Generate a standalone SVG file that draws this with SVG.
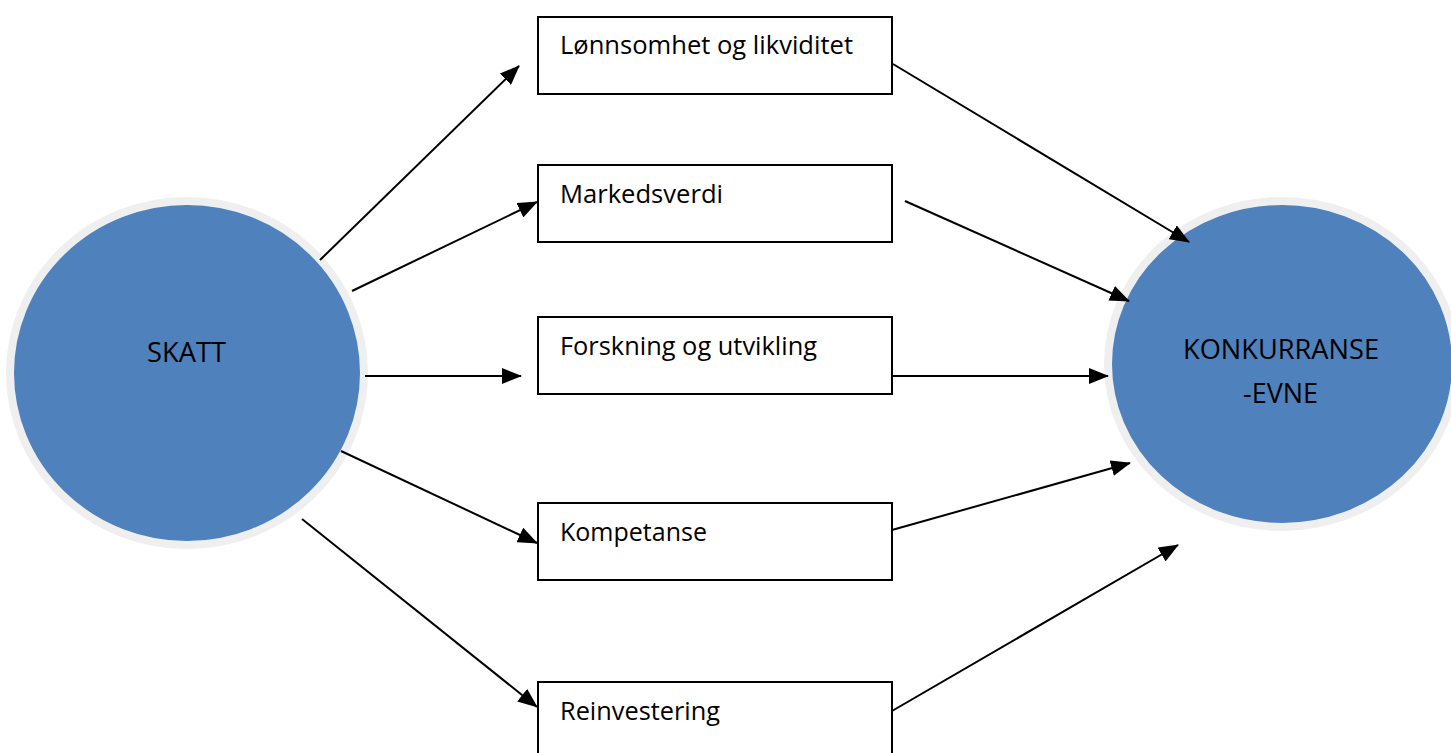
<svg xmlns="http://www.w3.org/2000/svg" width="1451" height="753" viewBox="0 0 1451 753">
<style>
.circ{fill:#4f81bd;stroke:#efefef;stroke-width:8}
.box{fill:#fff;stroke:#000;stroke-width:2}
.t{font-family:"Open Sans","Liberation Sans",sans-serif;font-size:25.5px;fill:#000}
.tc{font-family:"Open Sans","Liberation Sans",sans-serif;font-size:27px;fill:#000}
.c{stroke:#000;stroke-width:2;fill:none;marker-end:url(#ah)}
</style>
<defs>
<marker id="ah" markerWidth="10" markerHeight="8" refX="9.5" refY="4" orient="auto" markerUnits="strokeWidth">
<path d="M0,0 L10,4 L0,8 Z" fill="#000"/>
</marker>
</defs>
<rect width="1451" height="753" fill="#fff"/>
<g id="skatt">
<ellipse class="circ" cx="187" cy="373" rx="177" ry="172"/>
<text class="tc" x="147" y="362" textLength="79" lengthAdjust="spacingAndGlyphs">SKATT</text>
</g>
<g id="konkurranseevne">
<ellipse class="circ" cx="1282" cy="364" rx="174" ry="163"/>
<text class="tc" x="1183" y="359" textLength="196" lengthAdjust="spacingAndGlyphs">KONKURRANSE</text>
<text class="tc" x="1243" y="403" textLength="75" lengthAdjust="spacingAndGlyphs">-EVNE</text>
</g>
<g id="lonnsomhet">
<rect class="box" x="538" y="17" width="354" height="77"/>
<text class="t" x="560" y="54" textLength="293" lengthAdjust="spacingAndGlyphs">Lønnsomhet og likviditet</text>
</g>
<g id="markedsverdi">
<rect class="box" x="538" y="165" width="354" height="77"/>
<text class="t" x="560" y="203" textLength="163" lengthAdjust="spacingAndGlyphs">Markedsverdi</text>
</g>
<g id="forskning">
<rect class="box" x="538" y="317" width="354" height="77"/>
<text class="t" x="560" y="355" textLength="257" lengthAdjust="spacingAndGlyphs">Forskning og utvikling</text>
</g>
<g id="kompetanse">
<rect class="box" x="538" y="503" width="354" height="77"/>
<text class="t" x="560" y="541" textLength="147" lengthAdjust="spacingAndGlyphs">Kompetanse</text>
</g>
<g id="reinvestering">
<rect class="box" x="538" y="682" width="354" height="80"/>
<text class="t" x="560" y="720" textLength="160" lengthAdjust="spacingAndGlyphs">Reinvestering</text>
</g>
<g id="connectors">
<line class="c" x1="320" y1="260" x2="519" y2="66"/>
<line class="c" x1="352" y1="291" x2="537" y2="202"/>
<line class="c" x1="365" y1="376" x2="521" y2="376"/>
<line class="c" x1="341" y1="451" x2="537" y2="543"/>
<line class="c" x1="302" y1="519" x2="537" y2="707"/>
<line class="c" x1="893" y1="64" x2="1189" y2="242"/>
<line class="c" x1="905" y1="201" x2="1129" y2="301"/>
<line class="c" x1="892" y1="376" x2="1108" y2="376"/>
<line class="c" x1="892" y1="530" x2="1130" y2="463"/>
<line class="c" x1="892" y1="711" x2="1178" y2="545"/>
</g>
</svg>
